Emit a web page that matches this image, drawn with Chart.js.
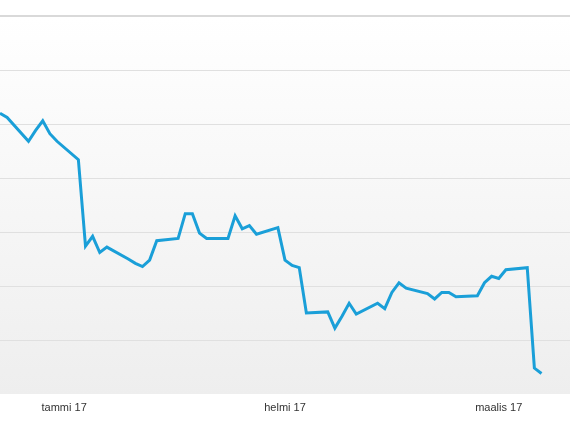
<!DOCTYPE html>
<html>
<head>
<meta charset="utf-8">
<script src="https://cdn.jsdelivr.net/npm/chart.js@4/dist/chart.umd.min.js"></script>
<style>
  html, body { margin: 0; padding: 0; background: #ffffff; }
  canvas { display: block; }
</style>
</head>
<body>
<canvas id="myChart" width="570" height="428"></canvas>
<script>
// päivät 22.12.2016 - 11.3.2017 (viikonloput tyhjiä)
const days = [];
const start = new Date(2016, 11, 22);
for (let i = 0; i < 81; i++) {
    const d = new Date(start.getTime() + i * 24 * 60 * 60 * 1000);
    days.push(d.getDate() + '.' + (d.getMonth() + 1) + '.' + d.getFullYear());
}

// kurssi (luettu kuvasta), null = ei kaupankäyntiä
const prices = [
    12.60, 12.56, null, null, 12.34, 12.44, 12.53, 12.41, 12.34, null, null,
    12.17, 11.37, 11.46, 11.31, 11.36, null, null,
    11.25, 11.21, 11.18, 11.24, 11.42, null, null,
    11.44, 11.67, 11.67, 11.49, 11.44, null, null,
    11.44, 11.65, 11.53, 11.56, 11.48, null, null,
    11.54, 11.24, 11.19, 11.17, 10.75, null, null,
    10.76, 10.61, 10.72, 10.84, 10.74, null, null,
    10.84, 10.79, 10.94, 11.03, 10.98, null, null,
    10.93, 10.88, 10.94, 10.94, 10.90, null, null,
    10.91, 11.03, 11.09, 11.07, 11.15, null, null,
    11.17, 10.24, 10.19
];

const tickLabels = ['tammi 17', 'helmi 17', 'maalis 17'];
const tickAt = [9, 40, 70];

const yMin = 10;
const yMax = 13.5;
const yStep = 0.5;

// taustan liukuväri
const background = {
    id: 'background',
    beforeDraw(chart) {
        const { ctx, chartArea } = chart;
        const g = ctx.createLinearGradient(0, chartArea.top, 0, chartArea.bottom);
        g.addColorStop(0, '#ffffff');
        g.addColorStop(1, '#eeeeee');
        ctx.save();
        ctx.fillStyle = g;
        ctx.fillRect(chartArea.left, chartArea.top, chartArea.right - chartArea.left, chartArea.bottom - chartArea.top);
        ctx.restore();
    }
};

const ctx = document.getElementById('myChart');

new Chart(ctx, {
    type: 'line',
    data: {
        labels: days,
        datasets: [{
            label: 'Kurssi',
            data: prices,
            borderColor: '#1a9fd8',
            borderWidth: 3,
            pointRadius: 0,
            tension: 0,
            spanGaps: true
        }]
    },
    options: {
        responsive: false,
        animation: false,
        layout: { autoPadding: false, padding: { top: 16, left: 0, right: 0, bottom: 0 } },
        plugins: {
            legend: { display: false },
            tooltip: { enabled: false }
        },
        scales: {
            x: {
                grid: { display: false, drawTicks: false },
                border: { display: false },
                ticks: {
                    autoSkip: false,
                    maxRotation: 0,
                    padding: 7,
                    color: '#333333',
                    font: { family: 'Liberation Sans', size: 11 },
                    callback: function (value, index) {
                        const k = tickAt.indexOf(index);
                        return k >= 0 ? tickLabels[k] : '';
                    }
                },
                afterFit: function (scale) {
                    scale.height = 34;
                    scale.paddingLeft = 0;
                    scale.paddingRight = 0;
                }
            },
            y: {
                min: yMin,
                max: yMax,
                ticks: { display: false, stepSize: yStep },
                border: { display: false },
                grid: {
                    drawTicks: false,
                    color: function (c) {
                        if (c.tick.value === yMin) return 'rgba(0,0,0,0)';
                        return c.tick.value === yMax ? '#d9d9d9' : '#e0e0e0';
                    },
                    lineWidth: function (c) {
                        return c.tick.value === yMax ? 2 : 1;
                    }
                },
                afterFit: function (scale) { scale.width = 0; }
            }
        }
    },
    plugins: [background]
});
</script>
</body>
</html>
